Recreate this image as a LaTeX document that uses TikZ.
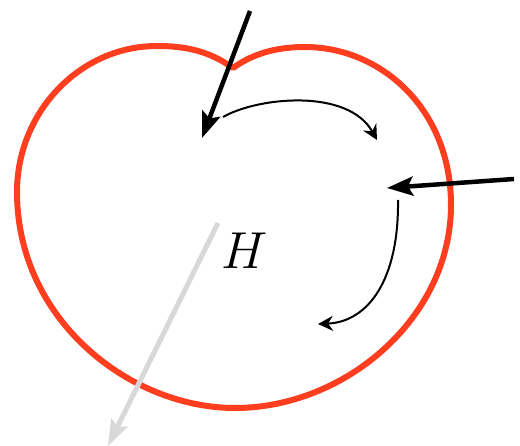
\documentclass[tikz,border=0pt]{standalone}
\usetikzlibrary{arrows.meta}
\definecolor{heartred}{RGB}{255,61,31}
\definecolor{lightgray}{RGB}{216,216,216}
\tikzset{
  heart/.style={draw=heartred,line width=6pt,line join=round},
  bigarrow/.style={line width=4.5pt,-{Stealth[length=26pt,width=19pt,inset=5pt]}},
  thinarrow/.style={line width=2pt,-{Stealth[length=15pt,width=15pt,inset=5pt]}},
  grayarrow/.style={draw=lightgray,line width=5pt,-{Stealth[length=26pt,width=18pt,inset=5pt]}},
  biglabel/.style={font=\Huge,scale=2.09}
}
\begin{document}
\begin{tikzpicture}[x=1pt,y=-1pt]
\useasboundingbox (0,0) rectangle (520,446);
% heart outline
\draw[heart] (233,68) .. controls (208,50) and (183,46) .. (157,46)
  .. controls (80,46) and (17,112) .. (17,192)
  .. controls (17,320) and (130,408) .. (235,408)
  .. controls (345,408) and (451,318) .. (451,205)
  .. controls (451,108) and (380,47) .. (305,47)
  .. controls (280,47) and (255,52) .. (233,68) -- cycle;
% coordinates
\coordinate (a1s) at (250,11);
\coordinate (a1e) at (202,138);
\coordinate (a2s) at (514,179);
\coordinate (a2e) at (387,188);
\coordinate (c1s) at (223,117);
\coordinate (c1e) at (377,140);
\coordinate (c2s) at (398,200);
\coordinate (c2e) at (318,324);
\coordinate (gs) at (218,223);
\coordinate (ge) at (108,446);
% gray arrow
\draw[grayarrow] (gs) -- (ge);
% H label
\node[biglabel] (H) at (245,251) {$H$};
% thick black arrows
\draw[bigarrow] (a1s) -- (a1e);
\draw[bigarrow] (a2s) -- (a2e);
% thin curved arrows
\draw[thinarrow] (c1s) .. controls (258,97) and (348,88) .. (c1e);
\draw[thinarrow] (c2s) .. controls (399,280) and (368,322) .. (c2e);
\end{tikzpicture}
\end{document}
